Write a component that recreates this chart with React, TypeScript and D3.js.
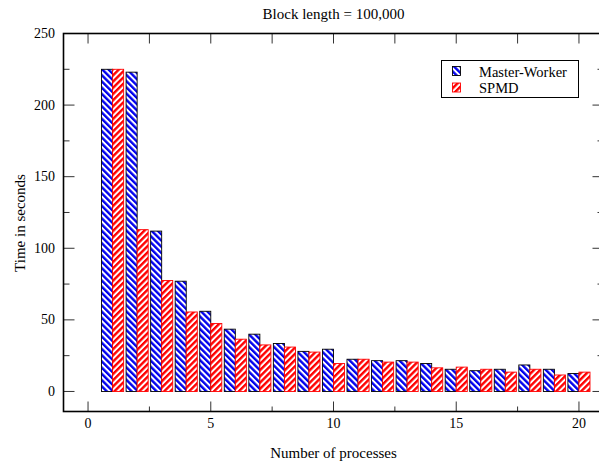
import React from 'react';
import * as d3 from 'd3';

// number of processes on the x axis
const processes = [1, 2, 3, 4, 5, 6, 7, 8, 9, 10, 11, 12, 13, 14, 15, 16, 17, 18, 19, 20];
// time in seconds
const masterWorker = [225, 223, 112, 77, 56, 43.5, 40, 33.5, 28, 29.5, 22.5, 21.5, 21.5, 19.5, 15.5, 14.5, 15.5, 18.5, 15.5, 12.5];
const spmd = [225, 113, 77.5, 55.5, 47.5, 36.5, 32.5, 31, 27.5, 19.5, 22.5, 20.5, 20.5, 16.5, 17, 15.5, 13.5, 15.5, 11.5, 13.5];
const seriesNames = ['Master-Worker', 'SPMD'];
const xTicks = [0, 5, 10, 15, 20];
const xMinorTicks = [2.5, 7.5, 12.5, 17.5];
const yTicks = [0, 50, 100, 150, 200, 250];
const yMinorTicks = [25, 75, 125, 175, 225];

const W = 599;
const H = 465;
const margin = { top: 33.5, left: 63.5, bottom: 411.5, right: 603.5 };
const font = '"Liberation Serif", "Times New Roman", serif';

export default function App() {
  const x = d3.scaleLinear().domain([-1, 21]).range([margin.left, margin.right]);
  const y = d3.scaleLinear().domain([-14, 250]).range([margin.bottom, margin.top]);
  const barW = 0.45;

  const bars = processes.flatMap((p, i) => [
    { key: `mw${p}`, x0: p - barW, v: masterWorker[i], fill: 'url(#hatchBlue)', stroke: '#000' },
    { key: `sp${p}`, x0: p, v: spmd[i], fill: 'url(#hatchRed)', stroke: '#f00' },
  ]);

  return (
    <svg width={W} height={H} style={{ position: 'absolute', left: 0, top: 0, background: '#fff' }}>
      <defs>
        <pattern id="hatchBlue" width={4.4} height={4.4} patternUnits="userSpaceOnUse" patternTransform="rotate(-45)">
          <rect width={4.4} height={4.4} fill="#fff" />
          <rect width={2.4} height={4.4} fill="#0000ee" />
        </pattern>
        <pattern id="hatchRed" width={4.4} height={4.4} patternUnits="userSpaceOnUse" patternTransform="rotate(45)">
          <rect width={4.4} height={4.4} fill="#fff" />
          <rect width={2.4} height={4.4} fill="#ff0000" />
        </pattern>
      </defs>

      <text x={(margin.left + margin.right) / 2} y={19} textAnchor="middle" fontFamily={font} fontSize={15}>
        Block length = 100,000
      </text>

      {bars.map(b => (
        <rect
          key={b.key}
          x={x(b.x0)}
          y={y(b.v)}
          width={x(b.x0 + barW) - x(b.x0)}
          height={y(0) - y(b.v)}
          fill={b.fill}
          stroke={b.stroke}
          strokeWidth={0.9}
        />
      ))}

      {/* ticks on all four sides */}
      <g stroke="#333" strokeWidth={1}>
        {xTicks.map(t => (
          <g key={`xt${t}`}>
            <line x1={x(t)} x2={x(t)} y1={margin.bottom} y2={margin.bottom - 10} />
            <line x1={x(t)} x2={x(t)} y1={margin.top} y2={margin.top + 10} />
          </g>
        ))}
        {xMinorTicks.map(t => (
          <g key={`xm${t}`}>
            <line x1={x(t)} x2={x(t)} y1={margin.bottom} y2={margin.bottom - 5} />
            <line x1={x(t)} x2={x(t)} y1={margin.top} y2={margin.top + 10} />
          </g>
        ))}
        {yTicks.map(t => (
          <g key={`yt${t}`}>
            <line x1={margin.left} x2={margin.left + 11} y1={y(t)} y2={y(t)} />
            <line x1={margin.right} x2={margin.right - 11} y1={y(t)} y2={y(t)} />
          </g>
        ))}
        {yMinorTicks.map(t => (
          <g key={`ym${t}`}>
            <line x1={margin.left} x2={margin.left + 6} y1={y(t)} y2={y(t)} />
            <line x1={margin.right} x2={margin.right - 6} y1={y(t)} y2={y(t)} />
          </g>
        ))}
      </g>

      <rect
        x={margin.left}
        y={margin.top}
        width={margin.right - margin.left}
        height={margin.bottom - margin.top}
        fill="none"
        stroke="#000"
        strokeWidth={1.6}
      />

      <g fontFamily={font} fontSize={14}>
        {xTicks.map(t => (
          <text key={`xl${t}`} x={x(t)} y={428} textAnchor="middle">{t}</text>
        ))}
        {yTicks.map(t => (
          <text key={`yl${t}`} x={55} y={y(t) + 4.5} textAnchor="end">{t}</text>
        ))}
      </g>
      <g fontFamily={font} fontSize={15}>
        <text x={(margin.left + margin.right) / 2} y={458} textAnchor="middle">Number of processes</text>
        <text transform={`translate(25,${223}) rotate(-90)`} textAnchor="middle">Time in seconds</text>
      </g>

      {/* legend */}
      <g>
        <rect x={441.5} y={60.5} width={137} height={37} fill="#fff" stroke="#000" strokeWidth={1} />
        {seriesNames.map((name, i) => (
          <g key={name} transform={`translate(0,${i * 16.5})`}>
            <rect
              x={452.5}
              y={66.5}
              width={8}
              height={9}
              fill={i === 0 ? 'url(#hatchBlue)' : 'url(#hatchRed)'}
              stroke={i === 0 ? '#000' : '#f00'}
              strokeWidth={0.9}
            />
            <text x={479} y={76.5} fontFamily={font} fontSize={14.5}>{name}</text>
          </g>
        ))}
      </g>
    </svg>
  );
}
